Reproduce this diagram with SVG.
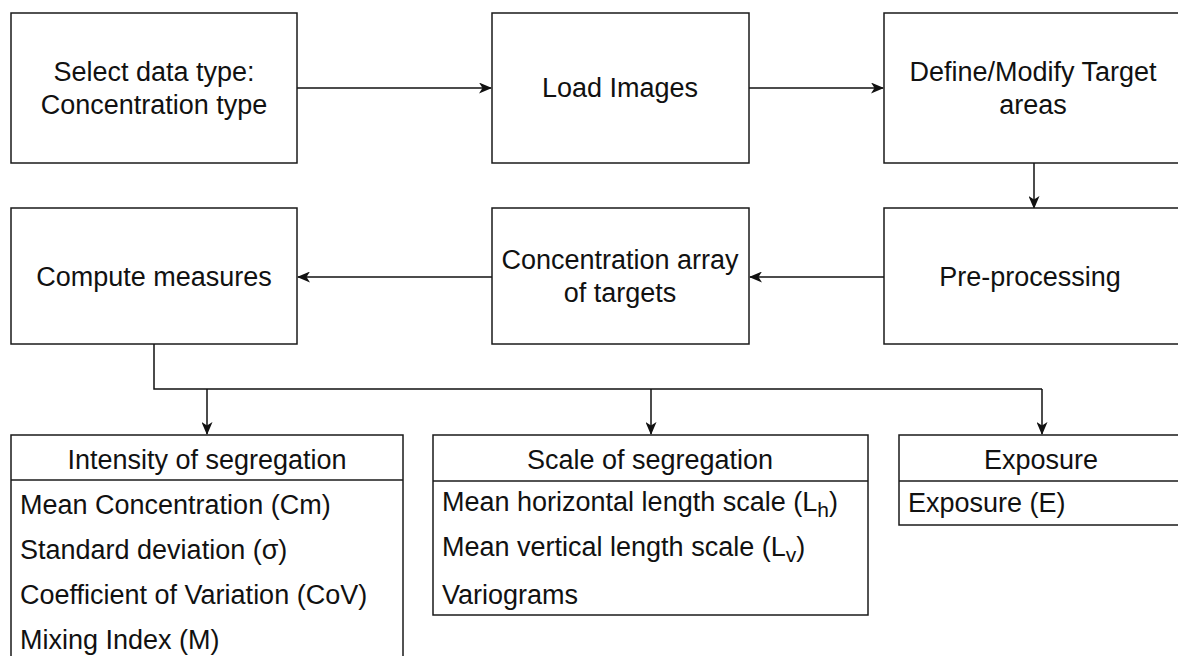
<svg xmlns="http://www.w3.org/2000/svg" width="1178" height="656" viewBox="0 0 1178 656">
  <defs>
    <style>
      .box { fill: #ffffff; stroke: #1a1a1a; stroke-width: 1.5; }
      .sep { stroke: #1a1a1a; stroke-width: 1.5; fill: none; }
      .lbl { font-family: "Liberation Sans", Arial, sans-serif; font-size: 27px; fill: #111111; }
      .mid { text-anchor: middle; }
      .edge { fill: none; stroke: #111111; stroke-width: 1.5; }
      .sub { font-size: 21px; }
    </style>
    <marker id="arrow" viewBox="0 0 13 11" refX="12" refY="5.5" markerWidth="13" markerHeight="11" markerUnits="userSpaceOnUse" orient="auto">
      <path d="M0,0 L13,5.5 L0,11 L3.5,5.5 Z" fill="#111111"/>
    </marker>
  </defs>
  <rect width="1178" height="656" fill="#ffffff"/>

  <!-- connectors -->
  <g id="connectors">
    <line class="edge" x1="297" y1="88" x2="491" y2="88" marker-end="url(#arrow)"/>
    <line class="edge" x1="749" y1="88" x2="883" y2="88" marker-end="url(#arrow)"/>
    <line class="edge" x1="1034" y1="163" x2="1034" y2="208" marker-end="url(#arrow)"/>
    <line class="edge" x1="884" y1="277" x2="750" y2="277" marker-end="url(#arrow)"/>
    <line class="edge" x1="492" y1="277" x2="298" y2="277" marker-end="url(#arrow)"/>
    <polyline class="edge" points="154,344 154,389 1042,389"/>
    <line class="edge" x1="207" y1="389" x2="207" y2="434" marker-end="url(#arrow)"/>
    <line class="edge" x1="651" y1="389" x2="651" y2="434" marker-end="url(#arrow)"/>
    <line class="edge" x1="1042" y1="389" x2="1042" y2="434" marker-end="url(#arrow)"/>
  </g>

  <!-- process steps -->
  <g id="select-data-type">
    <rect class="box" x="11" y="13" width="286" height="150"/>
    <text class="lbl mid" x="154" y="81">Select data type:</text>
    <text class="lbl mid" x="154" y="114">Concentration type</text>
  </g>
  <g id="load-images">
    <rect class="box" x="492" y="13" width="257" height="150"/>
    <text class="lbl mid" x="620" y="97">Load Images</text>
  </g>
  <g id="define-targets">
    <rect class="box" x="884" y="13" width="300" height="150"/>
    <text class="lbl mid" x="1033" y="81">Define/Modify Target</text>
    <text class="lbl mid" x="1033" y="114">areas</text>
  </g>
  <g id="pre-processing">
    <rect class="box" x="884" y="208" width="300" height="136"/>
    <text class="lbl mid" x="1030" y="286">Pre-processing</text>
  </g>
  <g id="concentration-array">
    <rect class="box" x="492" y="208" width="257" height="136"/>
    <text class="lbl mid" x="620" y="269">Concentration array</text>
    <text class="lbl mid" x="620" y="302">of targets</text>
  </g>
  <g id="compute-measures">
    <rect class="box" x="11" y="208" width="286" height="136"/>
    <text class="lbl mid" x="154" y="286">Compute measures</text>
  </g>

  <!-- measure groups -->
  <g id="intensity">
    <rect class="box" x="11" y="435" width="392" height="240"/>
    <line class="sep" x1="11" y1="480" x2="403" y2="480"/>
    <text class="lbl mid" x="207" y="469">Intensity of segregation</text>
    <text class="lbl" x="20" y="514">Mean Concentration (Cm)</text>
    <text class="lbl" x="20" y="559">Standard deviation (σ)</text>
    <text class="lbl" x="20" y="604">Coefficient of Variation (CoV)</text>
    <text class="lbl" x="20" y="649">Mixing Index (M)</text>
  </g>
  <g id="scale">
    <rect class="box" x="433" y="435" width="435" height="180"/>
    <line class="sep" x1="433" y1="481" x2="868" y2="481"/>
    <text class="lbl mid" x="650" y="469">Scale of segregation</text>
    <text class="lbl" x="442" y="511">Mean horizontal length scale (L<tspan class="sub" dy="6">h</tspan><tspan dy="-6">)</tspan></text>
    <text class="lbl" x="442" y="556">Mean vertical length scale (L<tspan class="sub" dy="6">v</tspan><tspan dy="-6">)</tspan></text>
    <text class="lbl" x="442" y="604">Variograms</text>
  </g>
  <g id="exposure">
    <rect class="box" x="899" y="435" width="284" height="90"/>
    <line class="sep" x1="899" y1="481" x2="1183" y2="481"/>
    <text class="lbl mid" x="1041" y="469">Exposure</text>
    <text class="lbl" x="908" y="512">Exposure (E)</text>
  </g>
</svg>
